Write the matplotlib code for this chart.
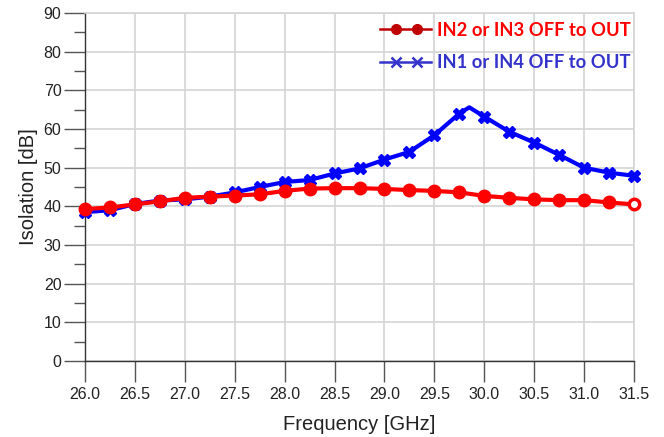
import matplotlib
matplotlib.use('Agg')
import matplotlib.pyplot as plt
from matplotlib.ticker import MultipleLocator
from matplotlib.lines import Line2D
from matplotlib.legend_handler import HandlerBase
import numpy as np

# frequencies [GHz], step 0.25
freq = [26.0, 26.25, 26.5, 26.75, 27.0, 27.25, 27.5, 27.75, 28.0, 28.25, 28.5, 28.75,
        29.0, 29.25, 29.5, 29.75, 30.0, 30.25, 30.5, 30.75, 31.0, 31.25, 31.5]

# IN2 or IN3 OFF to OUT
iso_red = [39.3, 39.7, 40.5, 41.3, 42.2, 42.5, 42.8, 43.1, 44.0, 44.6, 44.7, 44.7,
           44.5, 44.2, 44.0, 43.6, 42.7, 42.2, 41.8, 41.6, 41.6, 41.0, 40.5]

# IN1 or IN4 OFF to OUT (extra unmarked peak point at 29.85)
freq_blue = [26.0, 26.25, 26.5, 26.75, 27.0, 27.25, 27.5, 27.75, 28.0, 28.25, 28.5, 28.75,
             29.0, 29.25, 29.5, 29.75, 29.85, 30.0, 30.25, 30.5, 30.75, 31.0, 31.25, 31.5]
iso_blue = [38.5, 39.0, 40.6, 41.5, 41.8, 42.5, 43.6, 45.0, 46.3, 46.8, 48.5, 49.8,
            52.1, 54.1, 58.4, 64.0, 65.6, 63.2, 59.3, 56.5, 53.3, 50.0, 48.7, 47.9]
blue_marks = [i for i, f in enumerate(freq_blue) if f != 29.85]


class TwoMarkHandler(HandlerBase):
    # full-length line with two markers set inside it
    def create_artists(self, legend, h, xdescent, ydescent, width, height, fontsize, trans):
        y = height / 2 - ydescent
        line = Line2D([-xdescent, width - xdescent], [y, y], color=h.get_color(),
                      lw=h.get_linewidth(), transform=trans)
        xs = np.array([0.3, 0.72]) * width - xdescent
        marks = Line2D(xs, [y, y], ls='None', marker=h.get_marker(), ms=h.get_markersize(),
                       color=h.get_color(), mew=h.get_markeredgewidth(), transform=trans)
        return [line, marks]


plt.rcParams['font.family'] = ['Liberation Sans', 'DejaVu Sans']

fig = plt.figure(figsize=(6.64, 4.37), dpi=100)
ax = fig.add_axes([85/664, 1-361/437, (634-85)/664, (361-13)/437])

ax.plot(freq_blue, iso_blue, color='#0000ff', lw=3, marker='X', ms=9,
        markevery=blue_marks, mec='#0000ff', mfc='#0000ff', zorder=3, clip_on=False)
ax.plot(freq, iso_red, color='#ff0000', lw=3, marker='o', ms=9,
        markevery=list(range(len(freq) - 1)), mec='#ff0000', mfc='#ff0000', zorder=4,
        clip_on=False)
# last red point is drawn as an open circle
ax.plot(freq[-1:], iso_red[-1:], ls='None', marker='o', ms=7.5, mew=2.5,
        mec='#ff0000', mfc='white', zorder=5, clip_on=False)

ax.set_xlim(26.0, 31.5)
ax.set_ylim(0, 90)
ax.xaxis.set_major_locator(MultipleLocator(0.5))
ax.yaxis.set_major_locator(MultipleLocator(10))
ax.yaxis.set_minor_locator(MultipleLocator(5))
ax.set_xticks(np.arange(26.0, 31.51, 0.5))
ax.set_xticklabels([f'{v:.1f}' for v in np.arange(26.0, 31.51, 0.5)])

ax.grid(True, which='major', color='#d4d4d4', lw=1.2, zorder=0)
ax.set_axisbelow(True)
for s in ['top', 'right']:
    ax.spines[s].set_color('#d4d4d4')
    ax.spines[s].set_linewidth(1.2)
for s in ['left', 'bottom']:
    ax.spines[s].set_color('#333333')
    ax.spines[s].set_linewidth(1.0)

ax.tick_params(axis='both', which='major', direction='out', length=15, width=1,
               color='#555555', labelsize=11.5, labelcolor='#222222', pad=2)
ax.tick_params(axis='y', which='minor', direction='out', length=8, width=1, color='#555555')
ax.tick_params(axis='x', pad=4)

ax.set_xlabel('Frequency [GHz]', fontsize=14.5, color='#222222', labelpad=9)
ax.set_ylabel('Isolation [dB]', fontsize=14.5, color='#222222', labelpad=4)

handles = [Line2D([], [], color='#c00000', lw=1.8, marker='o', ms=7),
           Line2D([], [], color='#3333cc', lw=1.8, marker='x', ms=7, mew=1.8)]
hmap = {Line2D: TwoMarkHandler()}
leg = ax.legend(handles, ['IN2 or IN3 OFF to OUT', 'IN1 or IN4 OFF to OUT'],
                loc='upper right', bbox_to_anchor=(0.994, 0.975), frameon=False,
                handlelength=2.8, handletextpad=0.3, handler_map=hmap,
                borderaxespad=0.0, borderpad=0.0, labelspacing=0.85,
                prop={'family': ['Lato', 'DejaVu Sans'], 'weight': 'bold', 'size': 13.2})
leg.get_texts()[0].set_color('#ff0000')
leg.get_texts()[1].set_color('#3333cc')

fig.savefig('out.png', dpi=100)
